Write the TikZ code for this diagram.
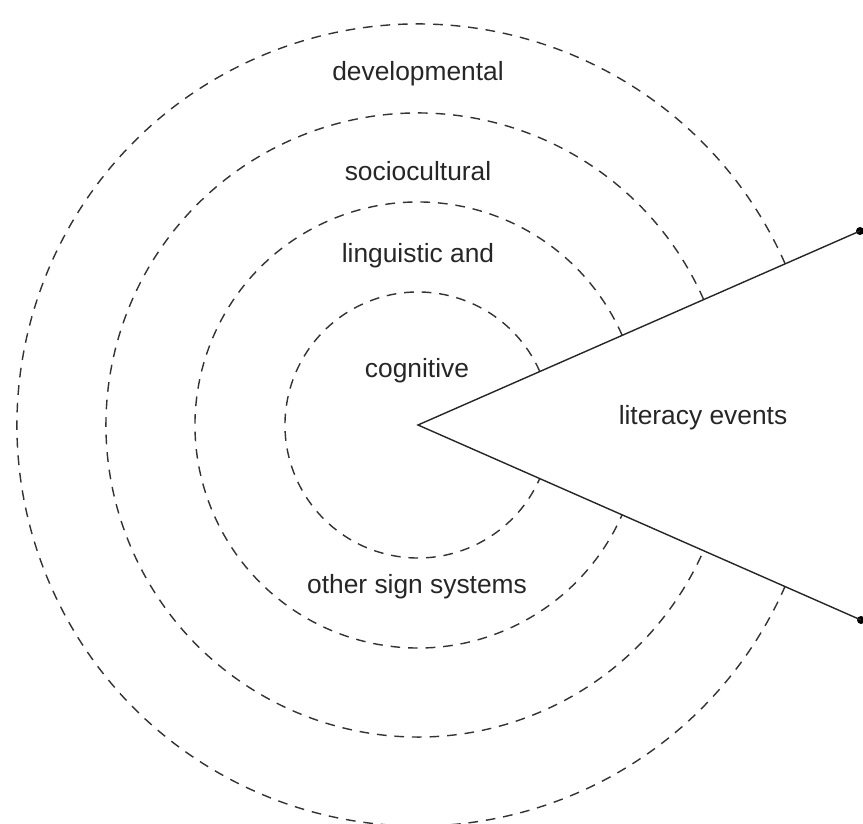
\documentclass[tikz,border=0pt]{standalone}
\usepackage{fontspec}
\setmainfont{Liberation Sans}
\usepackage{tikz}
\usetikzlibrary{calc, positioning}

\tikzset{
	ring/.style={dash pattern=on 5.5pt off 4.5pt, line width=0.8pt, black!80},
	lbl/.style={inner sep=0pt, font=\fontsize{15}{18}\selectfont, text=black!85},
	enddot/.style={circle, fill=black, inner sep=0pt, minimum size=1.6mm}
}

\begin{document}
\begin{tikzpicture}[x=0.02cm, y=0.02cm]
		% frame
		\useasboundingbox (-418,-399) rectangle (445,425);
		
		% rings, cut open by the wedge
		\draw[ring] (23.7:133) arc (23.7:336.3:133);
		\draw[ring] (23.7:223) arc (23.7:336.3:223);
		\draw[ring] (23.7:312) arc (23.7:336.3:312);
		\draw[ring] (23.7:401) arc (23.7:336.3:401);
		
		% wedge
		\coordinate (apex) at (0,0);
		\node[enddot] (upend) at (442,194) {};
		\node[enddot] (lowend) at (443,-195) {};
		\draw[line width=0.8pt, black!85] (upend.center) -- (apex) -- (lowend.center);
		
		% labels
		\node[lbl] (devel) at (0,351) {developmental};
		\node[lbl] (socio) at (0,254) {sociocultural};
		\node[lbl] (ling) at (0,169) {linguistic and};
		\node[lbl] (cog) at (-1,54) {cognitive};
		\node[lbl] (events) at (285,7) {literacy events};
		\node[lbl] (other) at (-1,-162) {other sign systems};
\end{tikzpicture}
\end{document}
